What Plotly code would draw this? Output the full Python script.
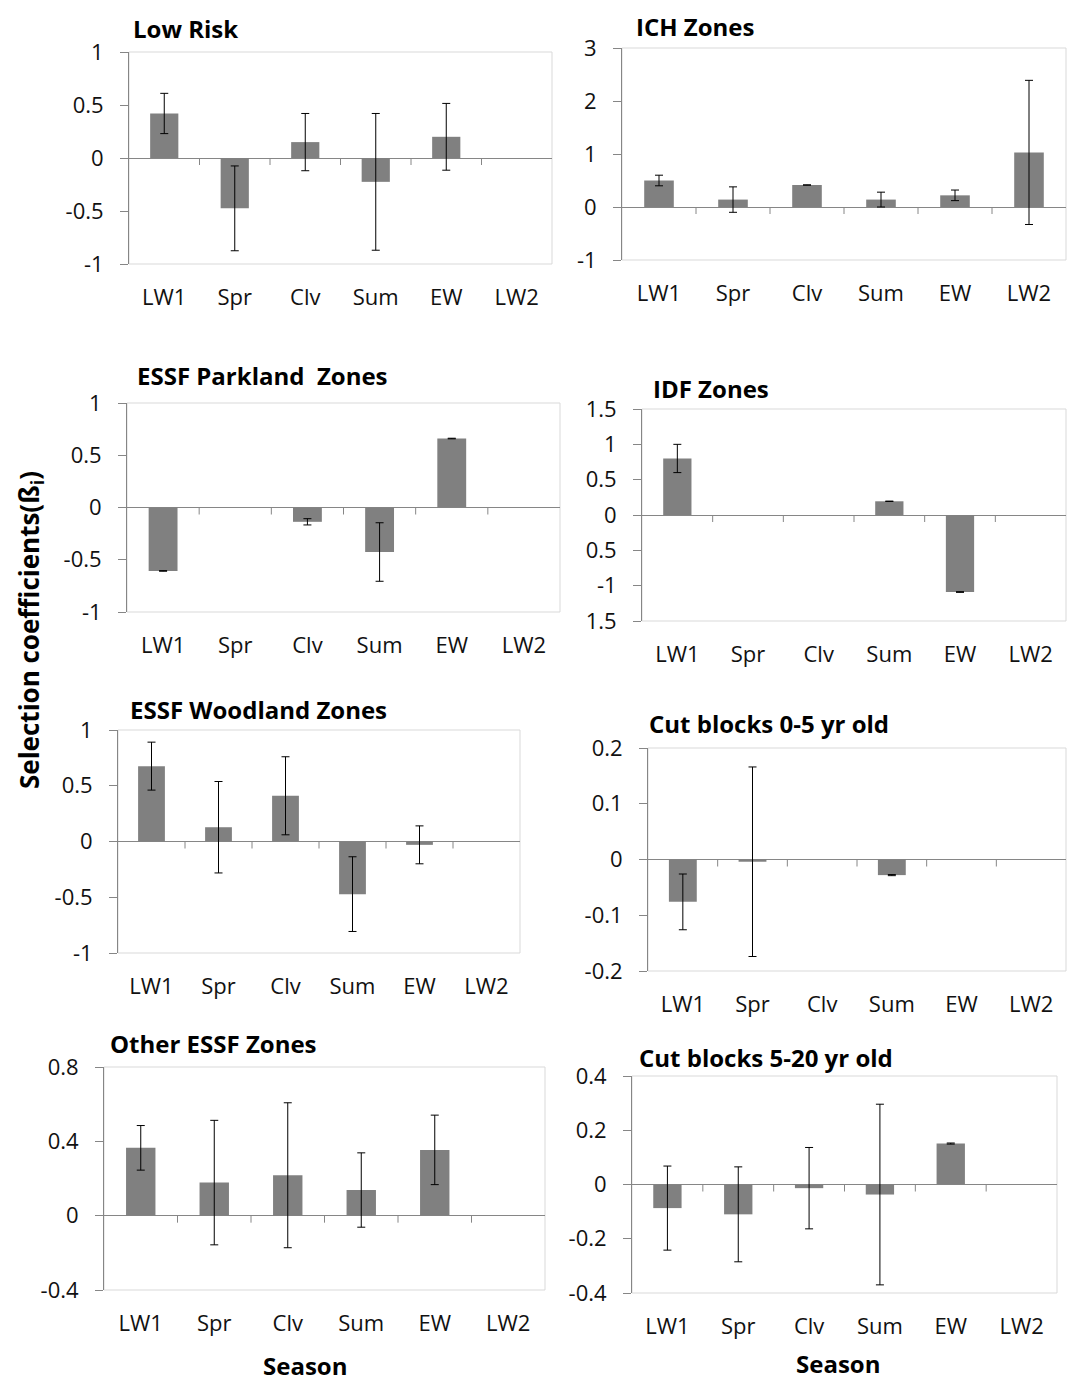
import plotly.graph_objects as go

# ---- data -------------------------------------------------------------
seasons = ["LW1", "Spr", "Clv", "Sum", "EW", "LW2"]

low_risk = [0.42, -0.475, 0.15, -0.225, 0.20, None]
low_risk_err = [0.19, 0.40, 0.27, 0.645, 0.315, 0]

ich = [0.50, 0.14, 0.415, 0.14, 0.22, 1.03]
ich_err = [0.10, 0.24, 0.003, 0.14, 0.10, 1.36]

parkland = [-0.607, None, -0.137, -0.426, 0.66, None]
parkland_err = [0.003, 0, 0.03, 0.28, 0.003, 0]

idf = [0.80, None, None, 0.194, -1.09, None]
idf_err = [0.20, 0, 0, 0.003, 0.005, 0]

woodland = [0.676, 0.128, 0.41, -0.472, -0.03, None]
woodland_err = [0.215, 0.41, 0.35, 0.335, 0.17, 0]

cut_0_5 = [-0.076, -0.004, None, -0.028, None, None]
cut_0_5_err = [0.05, 0.17, 0, 0.001, 0, 0]

other_essf = [0.365, 0.178, 0.2175, 0.138, 0.354, None]
other_essf_err = [0.12, 0.335, 0.39, 0.20, 0.187, 0]

cut_5_20 = [-0.087, -0.110, -0.0135, -0.037, 0.151, None]
cut_5_20_err = [0.155, 0.175, 0.15, 0.333, 0.002, 0]

# y tick values per panel (IDF labels keep their printed text)
ticks_low_risk = [-1, -0.5, 0, 0.5, 1]
ticks_ich = [-1, 0, 1, 2, 3]
ticks_parkland = [-1, -0.5, 0, 0.5, 1]
ticks_idf = [-1.5, -1, -0.5, 0, 0.5, 1, 1.5]
ticktext_idf = ["1.5", "-1", "0.5", "0", "0.5", "1", "1.5"]
ticks_woodland = [-1, -0.5, 0, 0.5, 1]
ticks_cut_0_5 = [-0.2, -0.1, 0, 0.1, 0.2]
ticks_other = [-0.4, 0, 0.4, 0.8]
ticks_cut_5_20 = [-0.4, -0.2, 0, 0.2, 0.4]

W, H = 1067, 1383
FONT = "Open Sans"
BAR = "#808080"
AXIS = "#868686"
BORDER = "#d9d9d9"

# panel specs: title, values, errors, tickvals, ticktext, plot box (px), title position (px)
panels = [
    ("Low Risk", low_risk, low_risk_err, ticks_low_risk, None, (129, 552, 52, 264), (131, 28)),
    ("ICH Zones", ich, ich_err, ticks_ich, None, (622, 1066, 48, 260), (634, 27)),
    ("ESSF Parkland  Zones", parkland, parkland_err, ticks_parkland, None, (127, 560, 403, 612), (135, 375)),
    ("IDF Zones", idf, idf_err, ticks_idf, ticktext_idf, (642, 1066, 409, 621), (651, 388)),
    ("ESSF Woodland Zones", woodland, woodland_err, ticks_woodland, None, (118, 520, 730, 953), (128, 710)),
    ("Cut blocks 0-5 yr old", cut_0_5, cut_0_5_err, ticks_cut_0_5, None, (648, 1066, 748, 971), (647, 723)),
    ("Other ESSF Zones", other_essf, other_essf_err, ticks_other, None, (104, 545, 1067, 1290), (108, 1043)),
    ("Cut blocks 5-20 yr old", cut_5_20, cut_5_20_err, ticks_cut_5_20, None, (632, 1057, 1076, 1293), (637, 1057)),
]


def fmt(v):
    return f"{v:g}"


fig = go.Figure()
layout = {}
shapes = []
annotations = []

for i, (title, vals, errs, tvals, ttext, box, tpos) in enumerate(panels, start=1):
    sfx = "" if i == 1 else str(i)
    xr, yr = f"x{sfx}", f"y{sfx}"
    x0, x1, y0, y1 = box

    fig.add_trace(go.Bar(
        x=seasons, y=vals, xaxis=xr, yaxis=yr,
        marker=dict(color=BAR, line=dict(width=0)),
        error_y=dict(type="data", array=errs, visible=True,
                     color="black", thickness=1, width=4),
        showlegend=False, hoverinfo="x+y",
    ))

    layout[f"xaxis{sfx}"] = dict(
        domain=[x0 / W, x1 / W], anchor=yr, type="category",
        categoryorder="array", categoryarray=seasons,
        range=[-0.5, len(seasons) - 0.5], automargin=False,
        showline=False, showgrid=False, zeroline=False, ticks="",
        tickfont=dict(family=FONT, size=22, color="#111"),
        ticklabelstandoff=18, fixedrange=True,
    )
    layout[f"yaxis{sfx}"] = dict(
        domain=[1 - y1 / H, 1 - y0 / H], anchor=xr,
        range=[min(tvals), max(tvals)], automargin=False,
        tickmode="array", tickvals=tvals,
        ticktext=ttext if ttext else [fmt(v) for v in tvals],
        showline=True, linecolor=AXIS, linewidth=1,
        ticks="outside", ticklen=8, tickcolor=AXIS, tickwidth=1,
        showgrid=False, zeroline=True, zerolinecolor=AXIS, zerolinewidth=1,
        tickfont=dict(family=FONT, size=22, color="#111"),
        ticklabelstandoff=12, fixedrange=True,
    )

    # light plot-area frame
    shapes.append(dict(type="rect", xref=f"{xr} domain", yref=f"{yr} domain",
                       x0=0, x1=1, y0=0, y1=1, layer="below",
                       line=dict(color=BORDER, width=1)))
    # category-boundary tick marks hanging below the zero line
    for k in range(len(seasons) - 1):
        shapes.append(dict(type="line", xref=xr, yref=yr,
                           x0=k + 0.5, x1=k + 0.5,
                           ysizemode="pixel", yanchor=0, y0=0, y1=-7,
                           line=dict(color=AXIS, width=1)))

    annotations.append(dict(text=f"<b>{title}</b>", xref="paper", yref="paper",
                            x=tpos[0] / W, y=1 - tpos[1] / H,
                            xanchor="left", yanchor="middle", showarrow=False,
                            font=dict(family=FONT, size=24, color="black")))

# shared axis titles
annotations.append(dict(text="<b>Season</b>", xref="paper", yref="paper",
                        x=305 / W, y=1 - 1365 / H, xanchor="center", yanchor="middle",
                        showarrow=False, font=dict(family=FONT, size=24, color="black")))
annotations.append(dict(text="<b>Season</b>", xref="paper", yref="paper",
                        x=838 / W, y=1 - 1363 / H, xanchor="center", yanchor="middle",
                        showarrow=False, font=dict(family=FONT, size=24, color="black")))
annotations.append(dict(text="<b>Selection coefficients(ß<sub>i</sub>)</b>",
                        xref="paper", yref="paper",
                        x=30 / W, y=1 - 630 / H, xanchor="center", yanchor="middle",
                        textangle=-90, showarrow=False,
                        font=dict(family=FONT, size=26, color="black")))

fig.update_layout(
    template="none",
    width=W, height=H, autosize=False,
    margin=dict(l=0, r=0, t=0, b=0, pad=0, autoexpand=False),
    paper_bgcolor="white", plot_bgcolor="white",
    bargap=0.6, showlegend=False,
    shapes=shapes, annotations=annotations,
    font=dict(family=FONT),
    **layout,
)

fig.write_html("out.html", config={"displayModeBar": False})
